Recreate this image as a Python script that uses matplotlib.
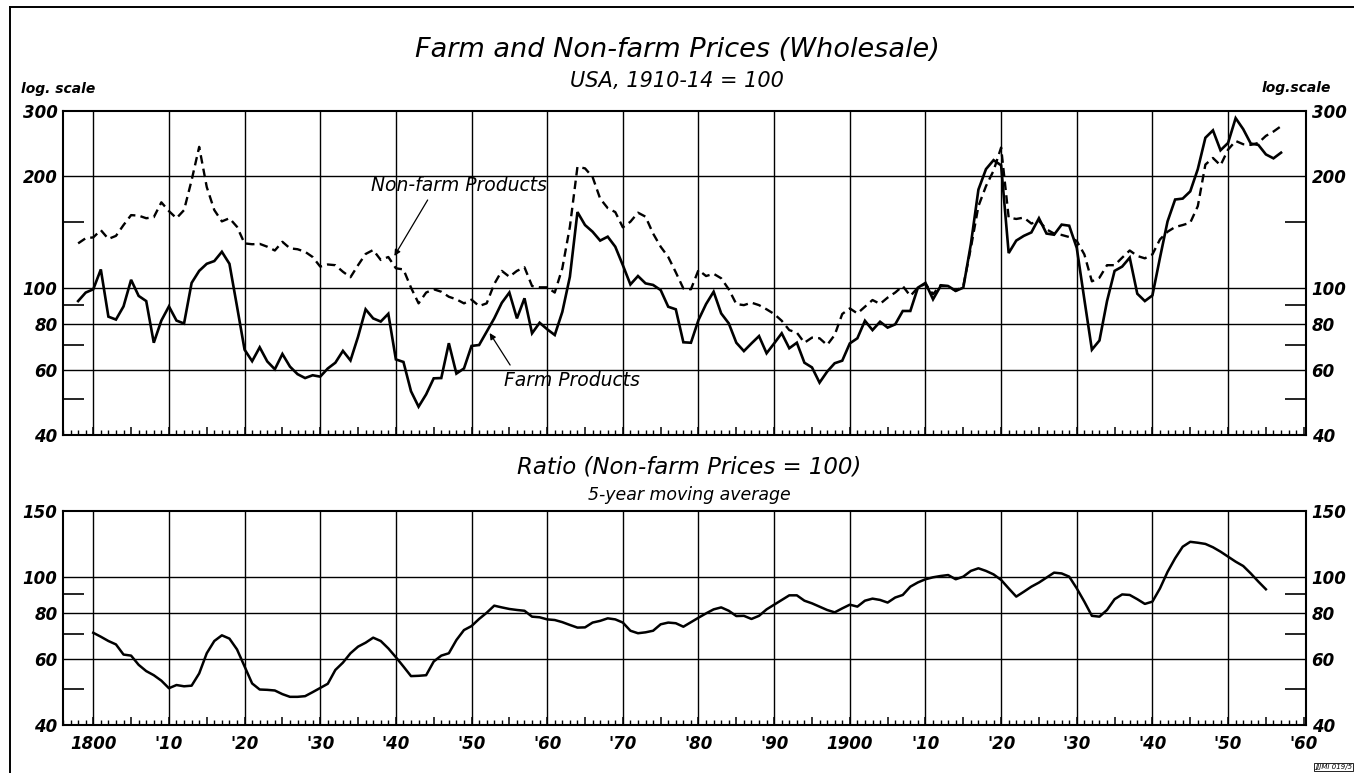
import numpy as np
import matplotlib.pyplot as plt
from matplotlib.lines import Line2D
from matplotlib.ticker import FixedLocator, NullFormatter, FuncFormatter

# Annual wholesale price indices, USA, 1910-14 = 100
years = np.arange(1798, 1958)
farm = [92, 97,
        99, 112, 83.5, 82, 89, 105, 95, 92, 71, 81.5,
        89, 81.5, 80, 103, 111, 116, 118, 125, 116, 89,
        68, 63.3, 69, 63.2, 60.2, 66.2, 61.2, 58.4, 57, 58,
        57.5, 60.5, 62.7, 67.5, 63.6, 73.7, 87.4, 82.6, 81, 85,
        64, 63, 52.5, 47.7, 51.5, 56.9, 57, 70.8, 58.6, 60.5,
        69.6, 70, 76, 82.6, 91, 97, 82.6, 93.6, 75.3, 80.4,
        77.2, 74.5, 86, 107, 160, 147.6, 141.6, 134, 137.3, 129,
        115, 102, 107.5, 102.7, 101.7, 98.5, 88.8, 87.4, 71.2, 71,
        81.8, 90.3, 97.5, 85.2, 80.1, 71, 67.4, 70.7, 74, 66.5,
        70.7, 75.3, 68.6, 71, 62.7, 60.9, 55.4, 59.3, 62.5, 63.5,
        70.7, 73, 81.4, 76.8, 80.9, 78, 79.6, 86.5, 86.5, 100,
        103, 93, 101, 101, 98, 100, 131, 184, 209, 221,
        214, 124, 134, 138, 141, 154, 140, 139, 148, 147,
        128, 93, 68, 72, 92, 111, 114, 120.5, 96.3, 92,
        95.3, 120.5, 151, 173, 174, 182, 209, 254, 266, 235,
        246, 287, 268, 245, 243, 229, 223.5, 231.5]
nonfarm = [131.7, 136,
           136.7, 143, 135.4, 138, 147.6, 157, 156.5, 154, 155, 170,
           161, 154, 162, 195, 240, 187, 162, 151, 154, 146,
           131.7, 131, 131.3, 129, 126, 133, 127.7, 127, 125, 121,
           114, 115.5, 115, 110.4, 106.7, 115, 123.3, 126.4, 118.8, 121,
           112.8, 112, 100, 90.7, 97, 99, 97.5, 94.5, 93, 90.7,
           92.8, 89.2, 90.7, 102.3, 111, 107, 111, 113.5, 101, 100.2,
           100.2, 97, 112.8, 146, 212, 210, 199, 174, 164, 160,
           145.5, 150.7, 159.4, 155.5, 140, 129, 121, 110, 99.5, 99,
           111.6, 107.5, 109, 106, 99, 90.3, 89.7, 91.1, 89.7, 87.4,
           84.9, 81.4, 76.8, 75.6, 71, 73.3, 73, 70, 74.5, 84.9,
           87.9, 85.2, 88.8, 92.6, 90.4, 94, 97, 101, 95, 100,
           102.4, 96, 101.6, 101, 98, 101, 128, 166, 188, 207,
           239, 154.6, 153.3, 154.6, 149, 151.5, 143.7, 140, 138.8, 137,
           133.7, 123, 104, 106.4, 115, 115, 120.5, 126, 121.8, 120,
           123, 135, 141.6, 145.8, 147.6, 149.8, 166, 215, 224, 214,
           236, 249, 244, 243, 246, 257, 264, 273]

# Ratio farm / non-farm, 5-year moving average
ratio_years = np.arange(1800, 1956)
ratio = [70.7, 69, 67.2, 65.8, 61.8, 61.4, 58, 55.8, 54.4, 52.6,
         50.2, 51.2, 50.8, 51, 55, 62.3, 67.2, 69.6, 68.2, 63.8,
         57.4, 51.7, 49.8, 49.7, 49.5, 48.4, 47.6, 47.6, 47.8, 49,
         50.3, 51.6, 56.2, 58.8, 62.3, 64.9, 66.5, 68.6, 67.2, 64.2,
         60.8, 57.4, 54.1, 54.2, 54.4, 59.2, 61.4, 62.3, 67.6, 71.9,
         73.7, 77, 80, 83.6, 82.7, 81.9, 81.4, 81, 78.1, 77.8,
         76.8, 76.5, 75.5, 74.2, 73, 73.1, 75.3, 76.1, 77.3, 76.8,
         75.3, 71.6, 70.5, 70.9, 71.6, 74.5, 75.3, 75, 73.4, 75.5,
         77.6, 79.7, 81.7, 82.7, 81, 78.4, 78.5, 77, 78.5, 81.7,
         84.1, 86.6, 89.1, 89.1, 86.2, 84.8, 83.1, 81.4, 80.2, 82.2,
         84.1, 83.1, 86.2, 87.3, 86.6, 85.2, 87.9, 89.3, 94, 96.5,
         98.4, 99.6, 100.4, 101, 98.4, 100, 103.6, 105.3, 103.6, 101.4,
         98, 93, 88.4, 91.1, 94, 96.4, 99.4, 102.5, 102, 100,
         93, 85.7, 78.5, 78.1, 81.4, 87, 89.6, 89.3, 87, 84.5,
         85.7, 93, 103, 112, 120.3, 124, 123.3, 122.4, 119.9, 116.7,
         113.1, 109.7, 106.8, 102, 97, 92.5]

top_ticks = [40, 60, 80, 100, 200, 300]
top_minor = [50, 70, 90, 150]
bot_ticks = [40, 60, 80, 100, 150]
bot_minor = [50, 70, 90]
decades = np.arange(1800, 1960, 10)

FONT = 'DejaVu Sans'
tickfont = dict(family=FONT, style='oblique', weight='bold', size=12)


def xlabel(v, pos):
    v = int(round(v))
    if v % 10:
        return ''
    if v in (1800, 1900):
        return str(v)
    return "'%02d" % (v % 100)


def setup(ax, ticks, minor, ylim, xlabels):
    ax.set_yscale('log')
    ax.set_xlim(1796, 1960.3)
    ax.set_ylim(*ylim)
    ax.set_yticks(ticks, [str(t) for t in ticks])
    ax.yaxis.set_minor_locator(FixedLocator(minor))
    ax.yaxis.set_minor_formatter(NullFormatter())
    ax.tick_params(axis='y', which='major', length=0, pad=4,
                   labelleft=True, labelright=True)
    ax.tick_params(axis='y', which='minor', direction='in', length=15,
                   width=1.2, left=True, right=True)
    ax.xaxis.set_major_locator(FixedLocator(np.arange(1800, 1961, 5)))
    ax.xaxis.set_minor_locator(FixedLocator(np.arange(1796, 1961, 1)))
    ax.xaxis.set_major_formatter(FuncFormatter(xlabel) if xlabels else NullFormatter())
    ax.tick_params(axis='x', which='major', direction='in', length=6,
                   width=1.1, pad=7, top=False)
    ax.tick_params(axis='x', which='minor', direction='in', length=3.5,
                   width=1.0, top=False)
    for lab in ax.get_xticklabels() + ax.get_yticklabels():
        lab.set_fontproperties(tickfont)
        lab.set_family(FONT)
        lab.set_style('oblique')
        lab.set_weight('bold')
        lab.set_size(12)
    for y in ticks[1:-1]:
        ax.axhline(y, color='black', lw=1.0, zorder=1)
    for d in decades:
        ax.axvline(d, color='black', lw=1.0, zorder=1)
    for s in ax.spines.values():
        s.set_linewidth(1.5)


fig = plt.figure(figsize=(13.54, 7.73), dpi=100)
ax1 = fig.add_axes([0.04653, 0.43726, 0.91802, 0.41914])
ax2 = fig.add_axes([0.04653, 0.06210, 0.91802, 0.27684])

setup(ax1, top_ticks, top_minor, (40, 300), False)
setup(ax2, bot_ticks, bot_minor, (40, 150), True)

ax1.plot(years, nonfarm, color='black', lw=1.7, dashes=(3.6, 2.2), zorder=3)
ax1.plot(years, farm, color='black', lw=1.9, solid_joinstyle='miter', zorder=3)
ax2.plot(ratio_years, ratio, color='black', lw=1.8, solid_joinstyle='round', zorder=3)

# series labels with pointer arrows
lab = dict(family=FONT, style='oblique', size=13.5)
ax1.text(1848.4, 189, 'Non-farm Products', ha='center', va='center', **lab)
ax1.annotate('', xy=(1839.8, 121.8), xytext=(1844.2, 172.5),
             arrowprops=dict(arrowstyle='-|>', color='black', lw=0.9,
                             mutation_scale=9, shrinkA=0, shrinkB=0))
ax1.text(1863.3, 56.3, 'Farm Products', ha='center', va='center', **lab)
ax1.annotate('', xy=(1852.4, 75.4), xytext=(1855.1, 61.8),
             arrowprops=dict(arrowstyle='-|>', color='black', lw=0.9,
                             mutation_scale=9, shrinkA=0, shrinkB=0))

# titles
fig.text(0.5, 1 - 50 / 773, 'Farm and Non-farm Prices (Wholesale)', ha='center',
         va='center', family=FONT, style='oblique', size=19.5)
fig.text(0.5, 1 - 81 / 773, 'USA, 1910-14 = 100', ha='center', va='center',
         family=FONT, style='oblique', size=15)
fig.text(0.509, 1 - 467 / 773, 'Ratio (Non-farm Prices = 100)', ha='center',
         va='center', family=FONT, style='oblique', size=16.5)
fig.text(0.509, 1 - 495 / 773, '5-year moving average', ha='center', va='center',
         family=FONT, style='oblique', size=12.5)
fig.text(58 / 1354, 1 - 89 / 773, 'log. scale', ha='center', va='center',
         family=FONT, style='oblique', weight='bold', size=10)
fig.text(1296 / 1354, 1 - 88 / 773, 'log.scale', ha='center', va='center',
         family=FONT, style='oblique', weight='bold', size=10)
fig.text(1352 / 1354, 1 - 767 / 773, 'JJJMI 019/5', ha='right', va='center',
         family=FONT, style='oblique', size=5,
         bbox=dict(boxstyle='square,pad=0.15', fc='white', ec='black', lw=0.6))

# page frame
fig.add_artist(Line2D([10 / 1354, 1], [1 - 7 / 773, 1 - 7 / 773],
                      transform=fig.transFigure, color='black', lw=1.4))
fig.add_artist(Line2D([10 / 1354, 10 / 1354], [0, 1 - 7 / 773],
                      transform=fig.transFigure, color='black', lw=1.4))

fig.savefig('out.png', dpi=100, facecolor='white')
